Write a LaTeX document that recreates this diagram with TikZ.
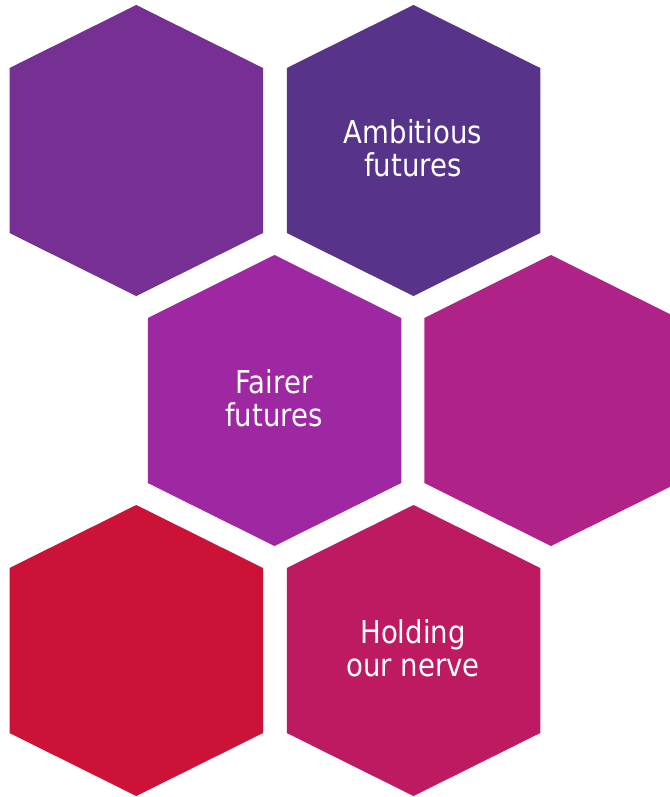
\documentclass[tikz,border=0pt]{standalone}
\usepackage{fontspec}
\setmainfont{DejaVu Sans}[FakeStretch=0.875]
\definecolor{hexA}{HTML}{762F93}
\definecolor{hexB}{HTML}{58338A}
\definecolor{hexC}{HTML}{9E28A1}
\definecolor{hexD}{HTML}{AF2288}
\definecolor{hexE}{HTML}{CC1236}
\definecolor{hexF}{HTML}{BE1A62}
\tikzset{
  hexlabel/.style={text=white, align=center, inner sep=0pt,
    font=\fontsize{31.5}{33}\selectfont},
}
\newcommand\hexagonat[3]{%
  \fill[#1] (#2,#3) ++(0,-145.5) -- ++(126.75,63) -- ++(0,165) -- ++(-126.75,63)
    -- ++(-126.75,-63) -- ++(0,-165) -- cycle;}
\begin{document}
\begin{tikzpicture}[x=1pt,y=-1pt]
\useasboundingbox (0,0) rectangle (669,797);
\hexagonat{hexA}{136.25}{150.5}
\hexagonat{hexB}{413.5}{150.5}
\hexagonat{hexC}{274.5}{400.5}
\hexagonat{hexD}{551}{400.5}
\hexagonat{hexE}{136.25}{650.5}
\hexagonat{hexF}{413.5}{650.5}
\node[hexlabel] (ambitious) at (413,148) {Ambitious\\futures};
\node[hexlabel] (fairer) at (274,398) {Fairer\\futures};
\node[hexlabel] (holding) at (413,648) {Holding\\our nerve};
\end{tikzpicture}
\end{document}
